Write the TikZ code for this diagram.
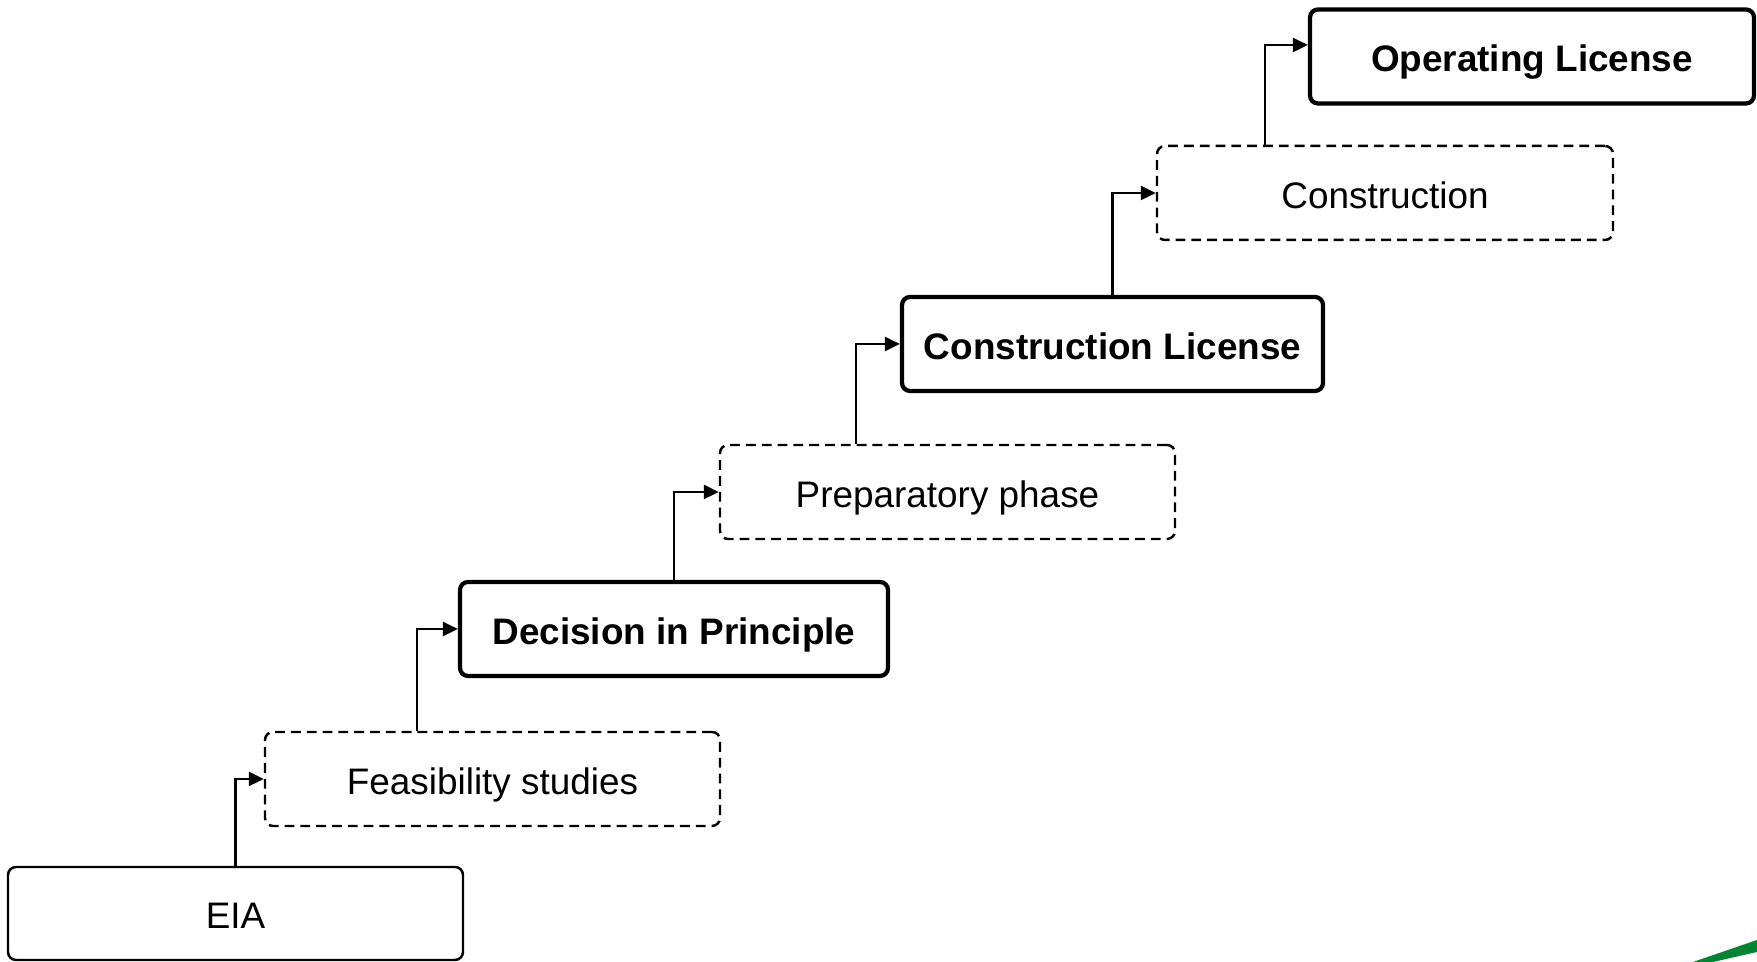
\documentclass[tikz,border=0pt]{standalone}
\usepackage{fontspec}
\setmainfont{Liberation Sans}
\usetikzlibrary{arrows.meta}
\definecolor{logogreen}{rgb}{0.02,0.52,0.20}

\begin{document}
\begin{tikzpicture}[
    font=\fontsize{10.5}{12}\selectfont,
    every node/.style={text height=0.88em, text depth=0pt},
    stage/.style={draw, rounded corners=0.8mm, line width=0.7pt, minimum height=0.94cm, dash pattern=on 2.8pt off 1.7pt},
    permit/.style={draw, rounded corners=0.8mm, line width=1.2pt, minimum height=0.94cm, font=\fontsize{10.5}{12}\selectfont\bfseries},
    arr/.style={-{Triangle[length=1.5mm,width=1.4mm]}, line width=0.7pt}]
    \useasboundingbox (0,0) rectangle (17.57,9.62);
    \node[draw, rounded corners=0.8mm, line width=0.7pt, minimum width=4.55cm, minimum height=0.93cm] (eia) at (2.355,0.485) {EIA};
    \node[stage, minimum width=4.55cm] (feas) at (4.925,1.83) {Feasibility studies};
    \node[permit, minimum width=4.28cm] (dip) at (6.74,3.33) {Decision in Principle};
    \node[stage, minimum width=4.55cm] (prep) at (9.475,4.70) {Preparatory phase};
    \node[permit, minimum width=4.21cm] (cl) at (11.125,6.18) {Construction License};
    \node[stage, minimum width=4.56cm] (constr) at (13.85,7.69) {Construction};
    \node[permit, minimum width=4.44cm] (ol) at (15.32,9.055) {Operating License};
    \draw[arr] (eia.north) |- (feas.west);
    \draw[arr] (feas.north west) ++(1.53,0) |- (dip.west);
    \draw[arr] (dip.north) |- (prep.west);
    \draw[arr] (prep.north west) ++(1.37,0) |- (cl.west);
    \draw[arr] (cl.north) |- (constr.west);
    \draw[arr] (constr.north west) ++(1.09,0) |- ([yshift=1.15mm]ol.west);
    \fill[logogreen] (16.93,0) -- (17.57,0.22) -- (17.57,0.10) -- (17.13,0) -- cycle;
\end{tikzpicture}
\end{document}
